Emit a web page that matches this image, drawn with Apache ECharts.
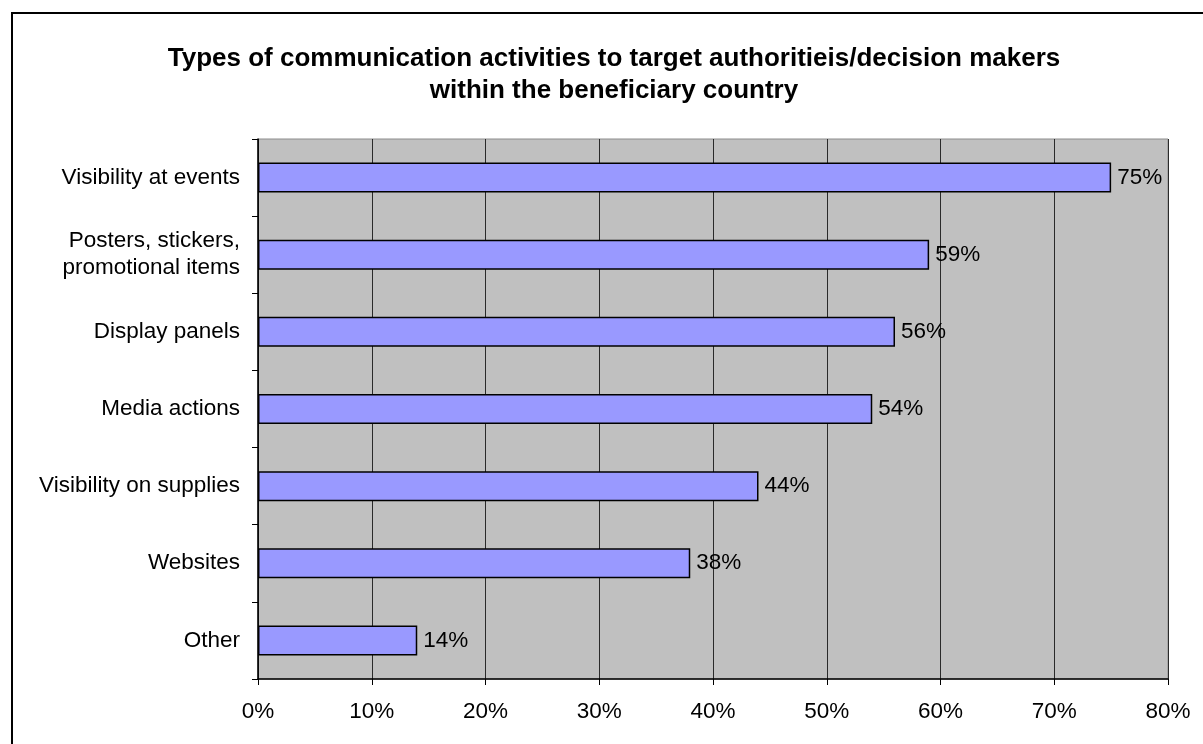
<!DOCTYPE html>
<html>
<head>
<meta charset="utf-8">
<script src="https://cdn.jsdelivr.net/npm/echarts@6/dist/echarts.min.js"></script>
<style>
html,body{margin:0;padding:0;background:#fff;}
#chart{width:1203px;height:744px;}
</style>
</head>
<body>
<div id="chart"></div>
<script>
// Communication activities aimed at authorities / decision makers
const categories = [
  'Visibility at events',
  'Posters, stickers,\npromotional items',
  'Display panels',
  'Media actions',
  'Visibility on supplies',
  'Websites',
  'Other'
];
const shares = [75, 59, 56, 54, 44, 38, 14];
const titleLines = [
  'Types of communication activities to target authoritieis/decision makers',
  'within the beneficiary country'
];

const chart = echarts.init(document.getElementById('chart'));
const font = '"Liberation Sans", Arial, sans-serif';
const labelSize = 22.5;

chart.setOption({
  backgroundColor: '#ffffff',
  animation: false,
  graphic: [
    {
      type: 'rect',
      shape: { x: 12, y: 13, width: 1400, height: 1000 },
      style: { fill: 'none', stroke: '#000', lineWidth: 2 },
      silent: true
    },
    {
      type: 'text',
      x: 614, y: 59,
      style: {
        text: titleLines[0], fontFamily: font, fontSize: 26, fontWeight: 'bold',
        fill: '#000', align: 'center', verticalAlign: 'middle'
      }
    },
    {
      type: 'text',
      x: 614, y: 91,
      style: {
        text: titleLines[1], fontFamily: font, fontSize: 26, fontWeight: 'bold',
        fill: '#000', align: 'center', verticalAlign: 'middle'
      }
    }
  ],
  grid: {
    left: 258, right: 35, top: 139, bottom: 65,
    show: true, backgroundColor: '#C0C0C0', borderColor: '#8c8c8c', borderWidth: 1
  },
  xAxis: {
    type: 'value',
    min: 0, max: 80, interval: 10,
    axisLine: { show: true, lineStyle: { color: '#000', width: 1.5 } },
    axisTick: { show: true, length: 6, lineStyle: { color: '#000' } },
    axisLabel: { formatter: '{value}%', fontFamily: font, fontSize: labelSize, color: '#000', margin: 21 },
    splitLine: { show: true, lineStyle: { color: '#2a2a2a', width: 1 } }
  },
  yAxis: {
    type: 'category',
    data: categories,
    inverse: true,
    axisLine: { show: true, lineStyle: { color: '#000', width: 1.5 } },
    axisTick: { show: true, length: 6, lineStyle: { color: '#000' } },
    axisLabel: { fontFamily: font, fontSize: labelSize, color: '#000', margin: 18, lineHeight: 27, align: 'right' },
    splitLine: { show: false }
  },
  series: [{
    type: 'bar',
    data: shares,
    barWidth: 30,
    itemStyle: { color: '#9999FF', borderColor: '#000', borderWidth: 1.5 },
    label: {
      show: true, position: 'right', distance: 6,
      formatter: '{c}%', fontFamily: font, fontSize: labelSize, color: '#000'
    }
  }]
});
</script>
</body>
</html>
